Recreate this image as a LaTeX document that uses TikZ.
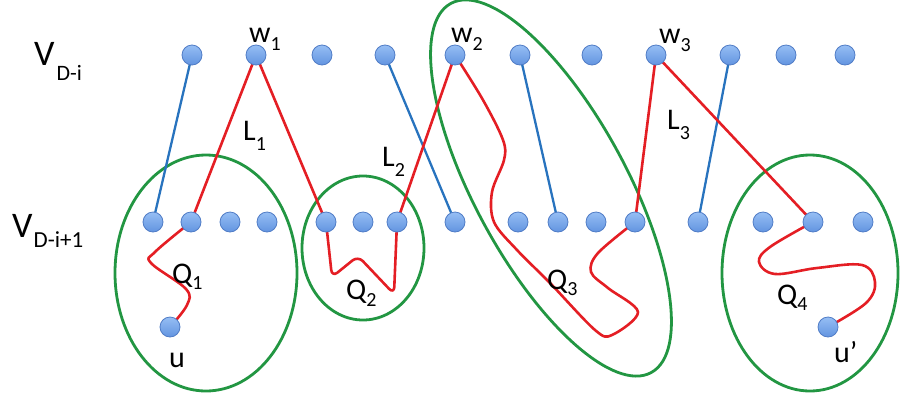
\documentclass[tikz,border=0pt]{standalone}
\usepackage{fontspec}
\setmainfont{Carlito}
\usetikzlibrary{backgrounds}
\definecolor{dottop}{RGB}{150,190,244}
\definecolor{dotbot}{RGB}{98,148,224}
\definecolor{dotline}{RGB}{80,124,198}
\definecolor{blueline}{RGB}{40,115,190}
\definecolor{redline}{RGB}{228,30,36}
\definecolor{greenline}{RGB}{34,150,66}
\newcommand{\sbs}[2][8pt]{\raisebox{-#1}{\fontsize{20}{20}\selectfont #2}}
\begin{document}
\begin{tikzpicture}[x=1pt,y=-1pt,
  vtx/.style={circle, minimum size=20pt, inner sep=0pt, top color=dottop, bottom color=dotbot, draw=dotline, line width=0.8pt},
  bl/.style={draw=blueline, line width=2.3pt},
  rd/.style={draw=redline, line width=2.6pt, line join=round},
  gr/.style={draw=greenline, line width=2.8pt},
  lab/.style={anchor=base west, inner sep=0pt, font=\fontsize{30}{30}\selectfont}]
\useasboundingbox (0,0) rectangle (902,400);
% vertices
\foreach \n/\x in {1/192,2/256,3/322,4/385,5/455,6/520,7/592,8/656,9/730,10/786,11/845}
  \node[vtx] (t\n) at (\x,55) {};
\foreach \n/\x in {1/153,2/191,3/230,4/267,5/326,6/363,7/397,8/455,9/518,10/558,11/596,12/635,13/698,14/763,15/813,16/863}
  \node[vtx] (b\n) at (\x,222) {};
\node[vtx] (u) at (170,327) {};
\node[vtx] (up) at (828,327) {};
\begin{scope}[on background layer]
  % groups
  \draw[gr] (206,273) ellipse [x radius=91pt, y radius=118pt];
  \draw[gr] (363,248) ellipse [x radius=61pt, y radius=72pt];
  \draw[gr, rotate around={-61.5:(551,188)}] (551,188) ellipse [x radius=210pt, y radius=76pt];
  \draw[gr] (810,273) ellipse [x radius=88pt, y radius=118pt];
  % blue edges
  \draw[bl] (t1.center) -- (b1.center);
  \draw[bl] (t4.center) -- (b8.center);
  \draw[bl] (t6.center) -- (b10.center);
  \draw[bl] (t9.center) -- (b13.center);
  % red edges
  \draw[rd] (t2.center) -- (b2.center);
  \draw[rd] (t2.center) -- (b5.center);
  \draw[rd] (t5.center) -- (b7.center);
  \draw[rd] (t8.center) -- (b12.center);
  \draw[rd] (t8.center) -- (b15.center);
  % paths Q
  \draw[rd] plot[smooth, tension=0.6] coordinates {(b2.center) (155,252) (151,263) (186,289) (187,305) (u.center)};
  \draw[rd, rounded corners=7pt] (b5.center) -- (332,277) -- (358,256) -- (394,294) -- (b7.center);
  \draw[rd] plot[smooth, tension=0.55] coordinates {(t5.center) (483,100) (503,140) (504,160) (492,192) (494,222) (517,250) (550,283) (595,330) (612,335) (638,312) (608,288) (591,272) (598,253) (b12.center)};
  \draw[rd] plot[smooth, tension=0.6] coordinates {(b15.center) (770,247) (759,262) (775,274) (817,268) (862,265) (875,282) (866,303) (up.center)};
\end{scope}
% labels
\node[anchor=base west, inner sep=0pt] (vtop) at (34,65) {\fontsize{36}{36}\selectfont V\kern2pt\raisebox{-15pt}{\fontsize{22}{22}\selectfont D-i}};
\node[anchor=base west, inner sep=0pt] (vbot) at (12,237) {\fontsize{36}{36}\selectfont V\kern1pt\raisebox{-10pt}{\fontsize{23}{23}\selectfont D-i+1}};
\node[lab] (w1) at (249,42) {w\sbs{1}};
\node[lab] (w2) at (451,42) {w\sbs{2}};
\node[lab] (w3) at (659,43) {w\sbs{3}};
\node[lab] (L1) at (243,140) {L\sbs[10pt]{1}};
\node[lab] (L2) at (382,166) {L\sbs[10pt]{2}};
\node[lab] (L3) at (667,129) {L\sbs[10pt]{3}};
\node[lab] (Q1) at (172,283) {Q\sbs[6pt]{1}};
\node[lab] (Q2) at (346,299) {Q\sbs[7pt]{2}};
\node[lab] (Q3) at (547,289) {Q\sbs[6pt]{3}};
\node[lab] (Q4) at (777,304) {Q\sbs[6pt]{4}};
\node[lab] (ulab) at (169,367) {u};
\node[lab] (uplab) at (834,362) {u’};
\end{tikzpicture}
\end{document}
